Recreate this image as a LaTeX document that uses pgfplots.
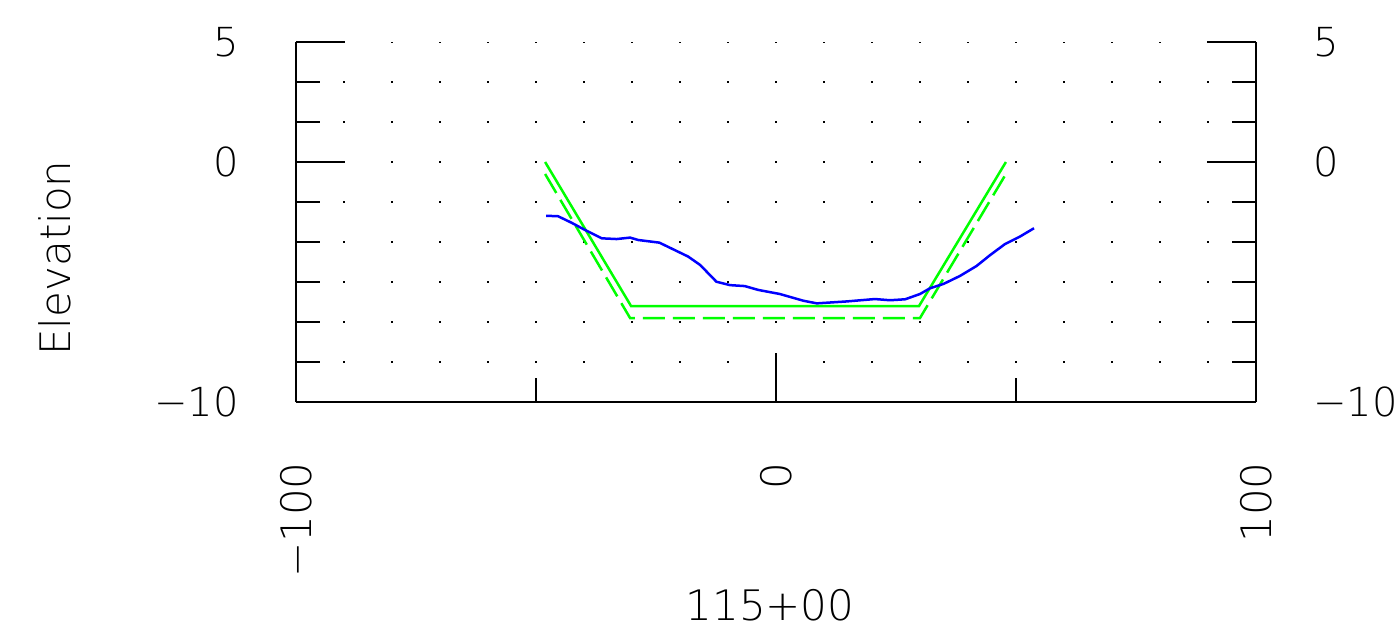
\documentclass[border=0pt]{standalone}
\usepackage{pgfplots}
\pgfplotsset{compat=1.18}
\usepackage{fontspec}
\IfFontExistsTF{DejaVu Sans ExtraLight}{\setmainfont{DejaVu Sans ExtraLight}}{\setmainfont{DejaVu Sans}}
\definecolor{lgreen}{RGB}{0,255,0}
\definecolor{lblue}{RGB}{0,0,255}
\pgfplotsset{
  common/.style={
    at={(0,0)}, anchor=south west, scale only axis, width=480pt, height=180pt,
    xmin=-100, xmax=100, ymin=-10, ymax=5,
    tick align=inside,
    major tick length=24.5pt, minor tick length=12pt,
    tick style={black, line width=1pt},
    ytick={-10,0,5}, yticklabels={−10,0,5},
    minor ytick={-8.3333,-6.6667,-5,-3.3333,-1.6667,1.6667,3.3333},
    yticklabel style={inner sep=0pt, font=\fontsize{20}{24}\selectfont},
    yticklabel shift=28.5pt,
    axis line style={line width=1pt, black},
    font=\fontsize{21}{25}\selectfont,
  }
}
\begin{document}
\fontsize{21}{25}\selectfont
\begin{tikzpicture}
\path[use as bounding box] (-148pt,-115.5pt) rectangle (551.5pt,201pt);
\begin{axis}[common, axis x line*=bottom, axis y line*=left,
  xtick={-100,0,100}, xticklabels={−100,0,100}, minor xtick={-50,50},
  xticklabel style={rotate=90, anchor=east, inner sep=0pt},
  xticklabel shift=30pt,
  extra x ticks={-90,-80,-70,-60,-50,-40,-30,-20,-10,0,10,20,30,40,50,60,70,80,90},
  extra x tick labels={},
  extra x tick style={grid=major, major tick length=0pt, tick style={draw=none}, xticklabel={}},
  major grid style={black, line width=0.9pt, dash pattern=on 0.9pt off 19.1pt, dash phase=0.45pt},
  xlabel={115+00}, ylabel={Elevation},
  xlabel style={at={(axis description cs:0.49375,-0.5639)}, anchor=center},
  ylabel style={at={(axis description cs:-0.251,0.4)}, anchor=center},
]
\addplot[lgreen, line width=1.25pt] coordinates {(-48.1,0) (-30.2,-6) (29.8,-6) (47.9,0)};
\addplot[lgreen, line width=1.25pt, dash pattern=on 11pt off 4pt] coordinates {(-48.1,-0.5) (-30.4,-6.5) (30,-6.5) (47.9,-0.5)};
\addplot[lblue, line width=1.25pt] coordinates {
(-47.9,-2.24) (-45.4,-2.26) (-42.6,-2.53) (-39.8,-2.83) (-36.3,-3.18) (-33.2,-3.21)
(-30.4,-3.15) (-28.7,-3.25) (-24.3,-3.36) (-21.4,-3.64) (-18.3,-3.94) (-15.8,-4.29)
(-12.4,-4.99) (-9.6,-5.13) (-6.5,-5.17) (-3.7,-5.33) (0.8,-5.5) (5.7,-5.78)
(8.5,-5.89) (14.7,-5.81) (20.6,-5.71) (23.75,-5.76) (26.9,-5.72) (30,-5.5)
(32.1,-5.26) (34.9,-5.08) (38.3,-4.75) (41.8,-4.33) (44.6,-3.88) (47.7,-3.42)
(50.8,-3.11) (53.75,-2.76)};
\end{axis}
\begin{axis}[common, axis y line*=right, axis x line=none]
\end{axis}
\end{tikzpicture}
\end{document}
